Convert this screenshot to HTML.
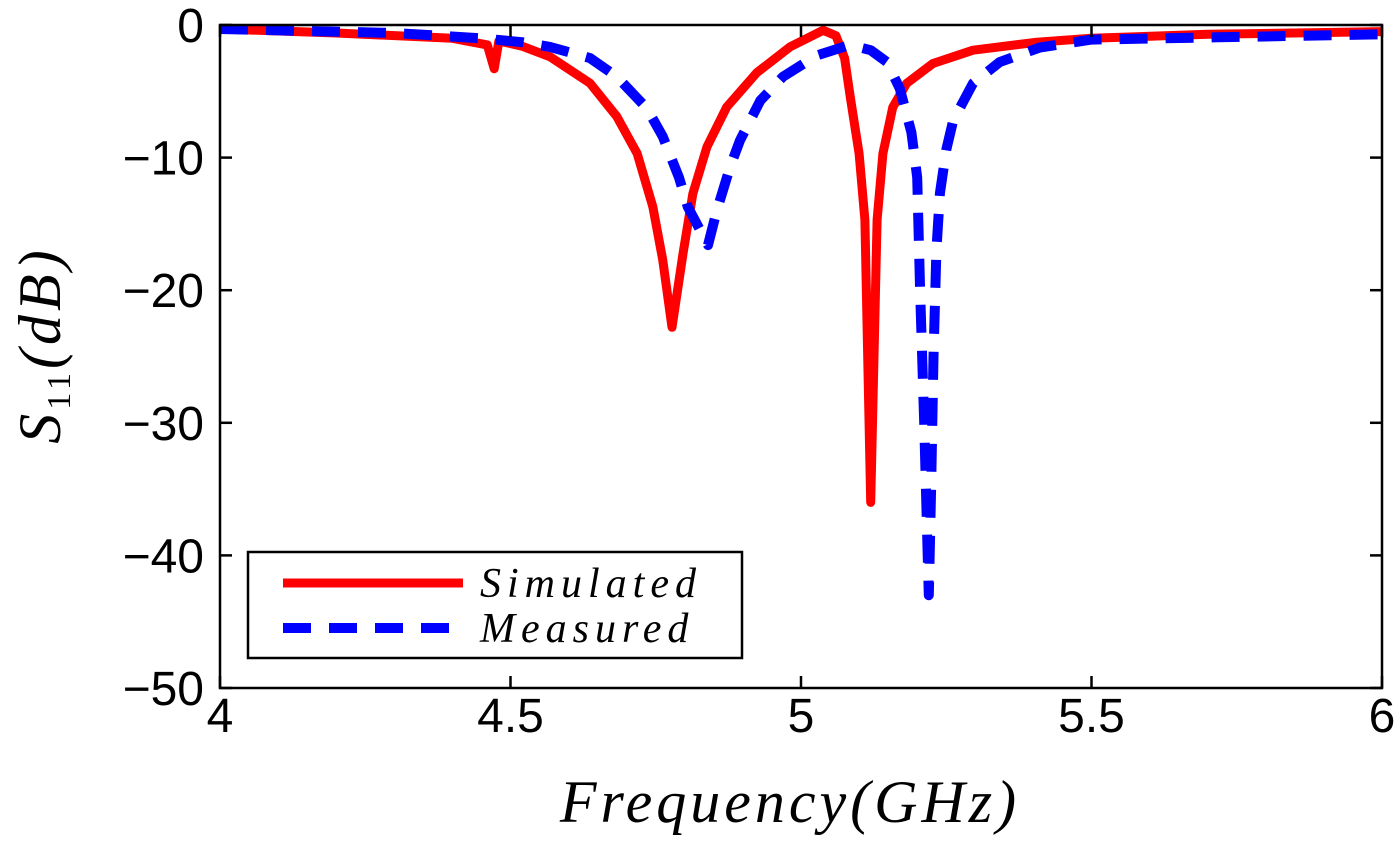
<!DOCTYPE html>
<html><head><meta charset="utf-8"><style>
html,body{margin:0;padding:0;background:#fff;width:1400px;height:860px;overflow:hidden}
svg{display:block}
.tk{font-family:"Liberation Sans",sans-serif;font-size:48px;fill:#000}
.it{font-family:"Liberation Serif",serif;font-style:italic;fill:#000}
</style></head><body>
<svg id="chart" width="1400" height="860">
<g id="plot"></g>
<g id="axes"></g>
</svg>
<script>
const xTicks=[4,4.5,5,5.5,6];
const xTickLabels=["4","4.5","5","5.5","6"];
const yTicks=[0,-10,-20,-30,-40,-50];
const yTickLabels=["0","\u221210","\u221220","\u221230","\u221240","\u221250"];
const simFreq=[4.0,4.2,4.4,4.46,4.472,4.48,4.52,4.568,4.637,4.683,4.718,4.745,4.762,4.778,4.797,4.814,4.838,4.872,4.924,4.981,5.038,5.06,5.075,5.085,5.1,5.11,5.12,5.131,5.141,5.158,5.182,5.227,5.296,5.406,5.5,5.7,6.0];
const simDb=[-0.3,-0.6,-1.0,-1.5,-3.3,-1.2,-1.6,-2.4,-4.4,-6.9,-9.7,-13.7,-17.7,-22.8,-17.2,-12.7,-9.2,-6.2,-3.6,-1.65,-0.4,-0.8,-2.5,-5.5,-9.7,-14.7,-36,-14.7,-9.7,-6.2,-4.4,-2.9,-1.9,-1.3,-1.0,-0.7,-0.5];
const measFreq=[4.0,4.3,4.45,4.52,4.568,4.637,4.683,4.735,4.762,4.79,4.805,4.84,4.855,4.878,4.895,4.93,4.969,5.027,5.084,5.12,5.148,5.17,5.19,5.2,5.205,5.212,5.218,5.22,5.224,5.228,5.233,5.239,5.25,5.262,5.296,5.342,5.411,5.5,6.0];
const measDb=[-0.3,-0.6,-1.0,-1.3,-1.65,-2.5,-3.9,-6.3,-8.4,-11.5,-13.7,-16.6,-14,-10.7,-8.7,-5.7,-3.9,-2.3,-1.5,-1.9,-2.8,-4.8,-8.1,-11.5,-20,-30,-40,-43,-35,-25,-17,-12.7,-9.4,-7.2,-4.4,-2.8,-1.7,-1.1,-0.7];

const L=220,R=1382,T=25,B=688;
const xS=f=>L+(f-4)/2*(R-L);
const yS=d=>T+(0-d)/50*(B-T);
const NS="http://www.w3.org/2000/svg";
const plot=document.getElementById('plot'),axes=document.getElementById('axes');
function mk(tag,attrs,parent){const e=document.createElementNS(NS,tag);for(const k in attrs)e.setAttribute(k,attrs[k]);parent.appendChild(e);return e;}
const defs=mk('defs',{},plot);
const cp=mk('clipPath',{id:'cp'},defs);mk('rect',{x:L,y:T-6,width:R-L,height:B-T+6},cp);
function pts(fs,ds){return fs.map((f,i)=>xS(f).toFixed(1)+','+yS(ds[i]).toFixed(1)).join(' ');}
const sim=mk('polyline',{points:pts(simFreq,simDb),fill:'none',stroke:'#ff0000','stroke-width':9,'stroke-linejoin':'round','stroke-linecap':'round','clip-path':'url(#cp)'},plot);


const meas=mk('polyline',{points:pts(measFreq,measDb),fill:'none',stroke:'#0000ff','stroke-width':10,'stroke-dasharray':'28 18','stroke-linejoin':'round','clip-path':'url(#cp)'},plot);


const frame=mk('rect',{x:L,y:T,width:R-L,height:B-T,fill:'none',stroke:'#000','stroke-width':2.5},axes);


xTicks.forEach((v,i)=>{const x=xS(v);
 mk('line',{x1:x,y1:B,x2:x,y2:B-12,stroke:'#000','stroke-width':2.5},axes);
 mk('line',{x1:x,y1:T,x2:x,y2:T+12,stroke:'#000','stroke-width':2.5},axes);
 const t=mk('text',{x:x,y:B+44,'text-anchor':'middle',class:'tk'},axes);t.textContent=xTickLabels[i];
 
 });
yTicks.forEach((v,i)=>{const y=yS(v);
 mk('line',{x1:L,y1:y,x2:L+12,y2:y,stroke:'#000','stroke-width':2.5},axes);
 mk('line',{x1:R,y1:y,x2:R-12,y2:y,stroke:'#000','stroke-width':2.5},axes);
 const t=mk('text',{x:L-16,y:y+17,'text-anchor':'end',class:'tk'},axes);t.textContent=yTickLabels[i];
 
 });
</script>
<svg width="1400" height="860" style="position:absolute;left:0;top:0">
<text class="it" x="790" y="822" font-size="60" letter-spacing="4" text-anchor="middle">Frequency(GHz)</text>
<text class="it" transform="translate(60,345) rotate(-90)" font-size="60" letter-spacing="4" text-anchor="middle">S<tspan font-size="34" font-style="normal" dy="10">11</tspan><tspan dy="-10">(dB)</tspan></text>
<g>
<rect x="248" y="552" width="494" height="106" fill="#fff" stroke="#000" stroke-width="2.5"/>
<line x1="283" y1="583" x2="463" y2="583" stroke="#ff0000" stroke-width="9"/>
<line x1="283" y1="628" x2="463" y2="628" stroke="#0000ff" stroke-width="10" stroke-dasharray="28 18"/>
<text class="it" x="480" y="597" font-size="42" letter-spacing="6">Simulated</text>
<text class="it" x="480" y="642" font-size="42" letter-spacing="6">Measured</text>
</g>
</svg>
</body></html>
